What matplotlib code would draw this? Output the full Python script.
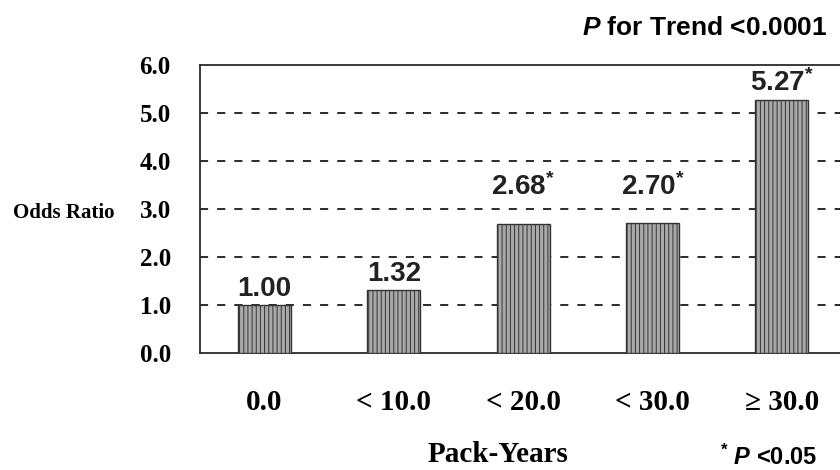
import math

import matplotlib
matplotlib.use("Agg")
import matplotlib.pyplot as plt

categories = ["0.0", "< 10.0", "< 20.0", "< 30.0", "\u2265 30.0"]
odds_ratio = [1.00, 1.32, 2.68, 2.70, 5.27]
significant = [False, False, True, True, True]
y_ticks = [0.0, 1.0, 2.0, 3.0, 4.0, 5.0, 6.0]

sans = ["Liberation Sans", "DejaVu Sans"]
serif = ["Liberation Serif", "DejaVu Serif"]

plt.rcParams["mathtext.fontset"] = "custom"
plt.rcParams["mathtext.it"] = "Liberation Sans:bold:italic"
plt.rcParams["mathtext.rm"] = "Liberation Sans:bold"
plt.rcParams["mathtext.default"] = "regular"
plt.rcParams["hatch.color"] = "#4e4e4e"
plt.rcParams["hatch.linewidth"] = 0.7

fig = plt.figure(figsize=(8.4, 4.7), dpi=100)
ax = fig.add_axes([0.238, 0.2489, 0.762, 0.6128])

x = list(range(len(categories)))
ax.bar(x, odds_ratio, width=0.41, color="#a9a9a9", edgecolor="#333333",
       linewidth=1.0, hatch="||||", zorder=3)

ax.set_xlim(-0.5, 4.45)
ax.set_ylim(0, 6.0)
ax.set_yticks(y_ticks)
ax.set_yticklabels([f"{v:.1f}" for v in y_ticks], fontsize=18,
                   fontweight="bold", family=serif)
ax.set_xticks(x)
ax.set_xticklabels(categories, fontsize=21, fontweight="bold", family=serif)
ax.tick_params(axis="both", length=0)
ax.tick_params(axis="y", pad=21)
ax.tick_params(axis="x", pad=26)

for yv in y_ticks[1:-1]:
    ax.axhline(yv, color="#1a1a1a", lw=1.3, ls=(0, (4.5, 5)), zorder=1)

for s in ["left", "top", "bottom"]:
    ax.spines[s].set_linewidth(1.3)
    ax.spines[s].set_color("#2a2a2a")
ax.spines["right"].set_visible(False)

# labels sit just above the bar, or above the next gridline when it is close
for xi, v, sig in zip(x, odds_ratio, significant):
    label = f"{v:.2f}" + ("$^{*}$" if sig else "")
    y_lab = v + 0.06
    nxt = math.ceil(v)
    if 0 < nxt - v < 0.5:
        y_lab = nxt + 0.17
    ax.text(xi, y_lab, label, ha="center", va="bottom", fontsize=20,
            fontweight="bold", family=sans, color="#222222")

fig.text(0.076, 0.547, "Odds Ratio", ha="center", va="center",
         fontsize=15, fontweight="bold", family=serif)
fig.text(0.593, 0.032, "Pack-Years", ha="center", va="center",
         fontsize=21, fontweight="bold", family=serif)
fig.text(0.985, 0.94, r"$\it{P}$ for Trend <0.0001", ha="right",
         va="center", fontsize=19, fontweight="bold", family=sans)
fig.text(0.973, 0.026, r"$^{*}$ $\it{P}$ <0.05", ha="right",
         va="center", fontsize=17, fontweight="bold", family=sans)

fig.savefig("out.png", dpi=100, facecolor="white")
